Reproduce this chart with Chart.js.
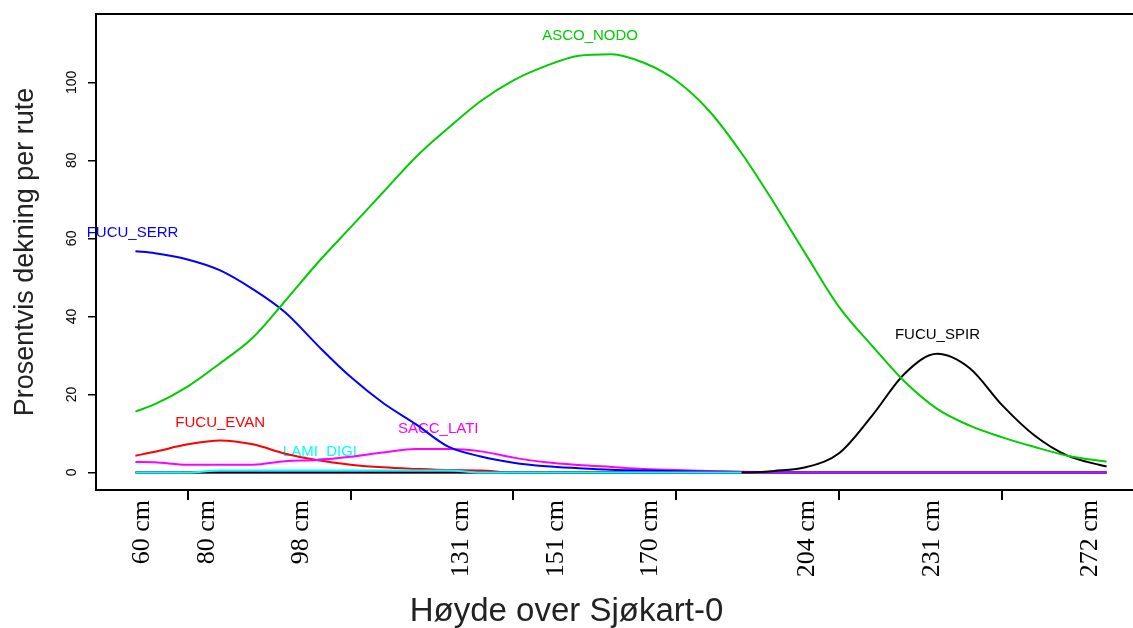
<!DOCTYPE html>
<html>
<head>
<meta charset="utf-8">
<script src="https://cdn.jsdelivr.net/npm/chart.js@4.4.1/dist/chart.umd.min.js"></script>
<style>
  html, body { margin: 0; padding: 0; background: #fff; overflow: hidden; }
  #wrap { width: 1133px; height: 628px; }
</style>
</head>
<body>
<div id="wrap"><canvas id="chart"></canvas></div>
<script>
// posisjon langs profilet (indeks-enheter)
const xPos = [34, 40, 50, 60, 70, 80, 90, 100, 110, 120, 130, 140, 150, 160, 170, 180,
  190, 200, 210, 220, 230, 240, 250, 260, 270, 280, 290, 300, 310, 320, 330, 332];

// dekning per art (null = arten mangler)
const ascoNodo = [15.6, 17.5, 22.0, 28.0, 34.5, 44.0, 53.8, 62.8, 71.8, 80.8, 88.3, 95.2, 100.5, 104.2, 106.8, 107.2,
  105.0, 100.4, 92.7, 81.8, 69.0, 55.5, 42.3, 32.5, 23.3, 16.3, 12.0, 9.0, 6.5, 4.3, 3.0, 2.8];
const fucuSerr = [56.7, 56.2, 54.6, 51.8, 47.0, 41.0, 32.5, 24.5, 17.8, 12.4, 6.6, 4.1, 2.5, 1.6, 1.1, 0.7,
  0.5, 0.3, 0.2, 0.1, 0, 0, 0, 0, 0, 0, 0, 0, 0, 0, 0, 0];
const fucuEvan = [4.3, 5.3, 7.2, 8.2, 7.2, 4.8, 3.1, 2.0, 1.3, 0.9, 0.6, 0.5, 0, 0, 0, 0,
  0, 0, 0, 0, 0, 0, 0, 0, 0, 0, 0, 0, 0, 0, 0, 0];
const lamiDigi = [0, 0, 0, 0.5, 0.5, 0.5, 0.5, 0.5, 0.5, 0.5, 0.5, 0, 0, 0, 0, 0,
  0, 0, 0, 0, null, null, null, null, null, null, null, null, null, null, null, null];
const saccLati = [2.7, 2.6, 2.0, 2.0, 2.0, 2.9, 3.2, 4.0, 5.1, 6.0, 6.0, 5.4, 3.8, 2.6, 1.9, 1.4,
  0.9, 0.6, 0.4, 0.2, 0.1, 0, 0, 0, 0, 0, 0, 0, 0, 0, 0, 0];
const fucuSpir = [0, 0, 0, 0, 0, 0, 0, 0, 0, 0, 0, 0, 0, 0, 0, 0,
  0, 0, 0, 0, 0.4, 1.4, 5.0, 14.5, 25.3, 30.4, 26.7, 17.2, 9.4, 4.3, 1.9, 1.5];
const andre = [0, 0, 0, 0, 0, 0, 0, 0, 0, 0, 0, 0, 0, 0, 0, 0,
  0, 0, 0, 0, 0, 0, 0, 0, 0, 0, 0, 0, 0, 0, 0, 0];

// aksemerker
const tickMarks = [50, 100, 150, 200, 250, 300];
const heightPos = [36, 56, 85, 134, 163, 192, 240, 278.5, 327];
const heightText = ["60 cm", "80 cm", "98 cm", "131 cm", "151 cm", "170 cm", "204 cm", "231 cm", "272 cm"];
const yTicks = [0, 20, 40, 60, 80, 100];

// artsnavn i plottet
const speciesNames = ["ASCO_NODO", "FUCU_SERR", "FUCU_EVAN", "LAMI_DIGI", "SACC_LATI", "FUCU_SPIR"];
const speciesColors = ["#00CD00", "#0000FF", "#FF0000", "#00FFFF", "#FF00FF", "#000000"];
const nameX = [173.5, 33.1, 60.0, 90.6, 126.9, 280.1];
const nameY = [111.9, 61.4, 12.8, 5.4, 11.2, 35.2];

const X_MIN = 21.9, X_MAX = 340.1;
const SANS = '"Liberation Sans", Arial, sans-serif';
const TITLE_SIZE = 33;

const toPts = (arr) => arr.map((v, i) => ({ x: xPos[i], y: v }));

function line(data, color, order) {
  return {
    data: toPts(data),
    borderColor: color,
    borderWidth: 2,
    pointRadius: 0,
    fill: false,
    spanGaps: false,
    cubicInterpolationMode: "monotone",
    order: order,
  };
}

// artsnavn + toppramme
const extras = {
  id: "extras",
  beforeDraw(chart) {
    const { ctx, scales } = chart;
    ctx.save();
    ctx.font = "15px " + SANS;
    ctx.textAlign = "center";
    ctx.textBaseline = "middle";
    speciesNames.forEach((n, i) => {
      ctx.fillStyle = speciesColors[i];
      ctx.fillText(n, scales.x.getPixelForValue(nameX[i]), scales.y.getPixelForValue(nameY[i]));
    });
    ctx.restore();
  },
  afterDraw(chart) {
    const { ctx, chartArea } = chart;
    ctx.save();
    ctx.strokeStyle = "#000";
    ctx.lineWidth = 2;
    ctx.beginPath();
    ctx.moveTo(chartArea.left - 1, chartArea.top);
    ctx.lineTo(chartArea.right, chartArea.top);
    ctx.stroke();
    ctx.restore();
  },
};

new Chart(document.getElementById("chart"), {
  type: "line",
  data: {
    datasets: [
      line(fucuEvan, "#FF0000", 7),
      line(saccLati, "#FF00FF", 6),
      line(fucuSerr, "#0000FF", 5),
      line(andre, "#A020F0", 4),
      line(fucuSpir, "#000000", 3),
      line(lamiDigi, "#00FFFF", 2),
      line(ascoNodo, "#00CD00", 1),
    ],
  },
  options: {
    responsive: true,
    maintainAspectRatio: false,
    animation: false,
    layout: { padding: { top: 14, left: 0, right: 0, bottom: 0 } },
    plugins: {
      legend: { display: false },
      tooltip: { enabled: false },
      title: {
        display: true,
        position: "bottom",
        text: "Høyde over Sjøkart-0",
        color: "#222",
        font: { family: SANS, size: TITLE_SIZE, weight: "normal", lineHeight: 1.0 },
        padding: { top: 0, bottom: 0 },
      },
    },
    scales: {
      x: {
        type: "linear",
        min: X_MIN,
        max: X_MAX,
        weight: 0,
        afterBuildTicks: (s) => { s.ticks = tickMarks.map((v) => ({ value: v })); },
        afterFit: (s) => { s.height = 10; s.paddingLeft = 0; s.paddingRight = 0; },
        ticks: { display: false },
        grid: { drawOnChartArea: false, drawTicks: true, tickLength: 10, color: "#000", lineWidth: 2 },
        border: { display: true, color: "#000", width: 2 },
      },
      x2: {
        type: "linear",
        position: "bottom",
        min: X_MIN,
        max: X_MAX,
        weight: 1,
        afterBuildTicks: (s) => { s.ticks = heightPos.map((v) => ({ value: v })); },
        afterFit: (s) => { s.height = 628 - 490 - 10 - TITLE_SIZE; s.paddingLeft = 0; s.paddingRight = 0; },
        ticks: {
          autoSkip: false,
          minRotation: 90,
          maxRotation: 90,
          padding: 0,
          color: "#000",
          font: { family: '"Liberation Serif", "Times New Roman", serif', size: 26 },
          callback: (v) => heightText[heightPos.indexOf(v)],
        },
        grid: { display: false, drawTicks: false },
        border: { display: false },
      },
      y: {
        type: "linear",
        min: -4.5,
        max: 117.5,
        afterBuildTicks: (s) => { s.ticks = yTicks.map((v) => ({ value: v })); },
        afterFit: (s) => { s.width = 96; s.paddingTop = 0; s.paddingBottom = 0; },
        ticks: {
          minRotation: 90,
          maxRotation: 90,
          crossAlign: "center",
          padding: 4,
          color: "#000",
          font: { family: SANS, size: 14 },
        },
        grid: { drawOnChartArea: false, drawTicks: true, tickLength: 8, color: "#000", lineWidth: 1.5 },
        border: { display: true, color: "#000", width: 2 },
        title: {
          display: true,
          text: "Prosentvis dekning per rute",
          color: "#222",
          font: { family: SANS, size: 27 },
          padding: { top: 9, bottom: 0 },
        },
      },
    },
  },
  plugins: [extras],
});
</script>
</body>
</html>
